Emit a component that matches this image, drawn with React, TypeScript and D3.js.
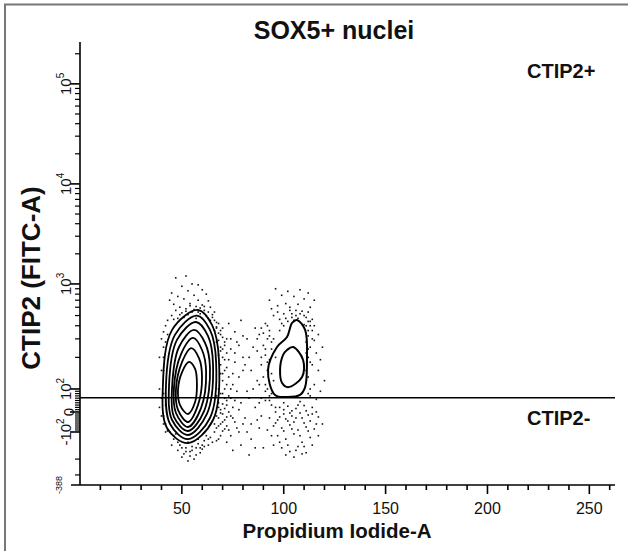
import React from 'react';
import * as d3 from 'd3';

const W = 628;
const H = 551;

// ---- axis data ----
const xMajorTicks = [50, 100, 150, 200, 250];
const xMinorTicks = [10, 20, 30, 40, 60, 70, 80, 90, 110, 120, 130, 140, 160, 170, 180, 190, 210, 220, 230, 240, 260];
const yMajorTicks = [100000, 10000, 1000, 100, 0, -100];
const yMinorTicks = [
  200000, 90000, 80000, 70000, 60000, 50000, 40000, 30000, 20000,
  9000, 8000, 7000, 6000, 5000, 4000, 3000, 2000,
  900, 800, 700, 600, 500, 400, 300, 200,
  90, 80, 70, 60, 50, 40, 30, 20, 10,
  -10, -20, -30, -40, -50, -60, -70, -80, -90, -200, -300,
];
const yLabelValues = [100000, 10000, 1000, 100, 0, -100];
const yLabelBase = ['10', '10', '10', '10', '0', '-10'];
const yLabelExp = ['5', '4', '3', '2', '', '2'];
const yMinValue = -388;
const yMaxValue = 262143;
const xMaxValue = 262.6;
const gateValue = 62;

// ---- contour data [PI, FITC] ----
const pop1Contours: [number, number][][] = [
  [[57.9, 565], [64.8, 407], [68.2, 189], [65.3, -40], [53, -133], [42.7, -80], [40.7, 109], [45.2, 365]],
  [[57.4, 500], [63.8, 365], [66.8, 181], [63.8, -30], [53, -120], [44.2, -60], [42.2, 109], [46.6, 327]],
  [[56.9, 434], [62.8, 320], [65.3, 169], [62.3, -10], [53, -108], [45.2, -40], [43.7, 107], [47.6, 293]],
  [[56, 365], [61.4, 274], [63.8, 159], [60.9, 4], [53, -95], [46.1, -25], [45.2, 104], [48.6, 251]],
  [[55.5, 306], [59.9, 235], [61.9, 145], [59.4, 17], [53, -75], [47.1, -5], [46.1, 102], [49.6, 215]],
  [[54.5, 245], [58.4, 197], [59.9, 130], [57.9, 30], [53, -50], [48.1, 9], [47.1, 100], [50.1, 181]],
  [[53.5, 181], [56.5, 155], [57.4, 109], [56.5, 43], [53, -10], [49.1, 30], [48.1, 96], [50.1, 145]],
];
const pop2Contours: [number, number][][] = [
  [[106.5, 454], [110.5, 365], [111.4, 189], [110.5, 104], [108, 74], [101.6, 65], [95.7, 74], [92.3, 152], [96.7, 251], [101.6, 312], [104.1, 425]],
  [[104.6, 251], [109.5, 189], [109, 130], [102.1, 104], [99.2, 114], [98.2, 152], [99.7, 211], [101.6, 235]],
];

// ---- outlier events [PI, FITC] ----
const events: [number, number][] = [
  // pop1 top
  [47, 1150], [52, 1200], [55, 1000], [50, 950], [58, 980], [45, 820], [53, 860], [60, 880], [48, 760], [56, 780],
  [62, 800], [44, 700], [51, 720], [58, 700], [63, 690], [46, 640], [54, 650], [60, 630], [49, 600], [57, 610],
  [64, 600], [47, 560], [52, 580], [61, 560], [55, 540], [66, 540], [50, 530], [59, 520], [62, 500], [53, 510],
  [45, 500], [65, 480], [57, 470], [48, 470], [43, 450], [67, 430], [64, 450],
  [54, 620], [56, 570], [59, 590], [61, 610], [63, 540], [65, 510], [60, 470], [58, 540], [52, 550], [49, 510],
  [46, 460], [51, 480], [63, 470], [66, 450], [67, 380],
  // pop1 right
  [68, 420], [70, 380], [66, 360], [69, 330], [72, 300], [68, 290], [71, 260], [74, 240], [69, 230], [70, 200],
  [73, 190], [76, 180], [69, 170], [71, 150], [75, 140], [78, 130], [70, 120], [72, 110], [74, 100], [77, 90],
  [70, 80], [73, 70], [71, 60], [76, 50], [68, 40], [72, 30], [75, 20], [69, 10], [73, 0], [70, -10],
  [74, -20], [68, -30], [71, -40], [76, -50], [69, -60], [72, -70], [67, -80], [70, -95], [74, -110], [66, -100],
  [68, -120], [72, -130], [78, -100], [80, -60], [79, 40], [80, 150], [82, 90], [78, 260], [76, 350], [73, 420],
  [79, -140], [75, -160], [68, 340], [67, 280], [69, 250], [68, 210], [69, 140], [68, 100], [67, 70], [68, 20],
  [67, -20], [66, -60],
  [67, 390], [69, 360], [70, 310], [71, 280], [70, 240], [72, 220], [71, 190], [72, 160], [70, 140], [73, 130],
  [71, 100], [69, 80], [72, 50], [70, 35], [71, 15], [69, -5], [72, -25], [70, -50], [68, -70], [71, -85],
  [69, -110], [67, -125], [73, -90], [75, -30], [74, 60], [75, 110], [76, 220], [74, 300], [77, -80], [78, 10],
  // pop1 left
  [40, 300], [41, 250], [39, 200], [40, 150], [39, 100], [40, 60], [39, 20], [40, -20], [41, -60], [42, -100],
  [41, 350], [42, 400], [41, 200], [41, 150], [41, 80], [42, 30], [41, -20], [42, -60], [43, -95], [42, 280],
  [43, 330],
  // pop1 bottom
  [46, -120], [49, -140], [52, -150], [55, -145], [58, -135], [61, -125], [48, -160], [51, -175], [54, -165], [57, -180],
  [60, -155], [63, -140], [50, -190], [56, -200], [45, -140], [53, -130], [59, -170], [47, -105], [62, -110], [65, -130],
  [44, -100], [53, -210], [58, -120], [50, -150], [52, -165], [55, -160], [57, -150], [60, -140], [63, -120], [48, -130],
  [46, -110], [54, -185], [59, -150], [61, -145], [64, -115], [43, -90],
  // bridge
  [82, 300], [85, 250], [80, 200], [84, 150], [87, 120], [83, 60], [86, 20], [81, -30], [88, -80], [84, -120],
  [90, -150], [86, 380], [79, 450], [89, 200], [91, 50], [83, -180], [87, -40], [77, 280], [80, 320], [83, 200],
  [85, 100], [82, -100], [86, -150], [88, 40], [89, -20], [81, 170], [84, -60],
  // pop2 top
  [96, 900], [102, 850], [108, 880], [112, 820], [99, 780], [105, 760], [93, 700], [110, 720], [115, 700], [101, 650],
  [97, 620], [107, 640], [113, 600], [94, 580], [103, 560], [109, 550], [100, 520], [95, 500], [106, 500], [111, 480],
  [98, 460], [102, 440], [114, 460], [104, 480], [107, 470], [100, 400], [98, 360], [110, 410], [104, 520],
  [103, 600], [106, 560], [108, 520], [105, 450], [101, 470], [99, 420], [110, 500], [97, 540], [112, 540],
  // pop2 left
  [91, 420], [89, 380], [93, 360], [88, 330], [92, 300], [94, 280], [90, 260], [87, 230], [91, 210], [93, 190],
  [89, 170], [92, 150], [90, 130], [88, 110], [91, 90], [94, 80], [89, 60], [93, 50], [95, 300], [96, 200],
  [95, 120], [87, 300], [92, 400], [93, 320], [91, 240], [92, 180], [91, 110], [93, 70], [90, 340], [94, 240],
  [92, 100], [94, 140],
  // pop2 right
  [112, 440], [113, 400], [114, 360], [112, 320], [115, 290], [113, 250], [116, 220], [112, 200], [114, 170], [117, 150],
  [112, 130], [115, 110], [118, 90], [113, 70], [116, 55], [119, 250], [117, 330], [118, 190], [120, 120], [111, 280],
  [111, 400], [112, 360], [112, 240], [113, 180], [111, 150], [113, 100], [112, 80], [114, 300], [111, 220], [113, 440],
  [115, 400],
  // pop2 bottom
  [94, 30], [98, 20], [102, 25], [106, 15], [110, 28], [114, 20], [96, 0], [100, -10], [104, 5], [108, -5],
  [112, -15], [116, 0], [93, -30], [97, -40], [101, -35], [105, -50], [109, -30], [113, -45], [117, -25], [95, -70],
  [99, -80], [103, -65], [107, -90], [111, -75], [115, -85], [97, -110], [101, -120], [105, -105], [109, -130], [113, -115],
  [99, -150], [103, -165], [107, -145], [111, -170], [105, -190], [95, -140], [117, -110], [92, -90], [119, -60], [100, 40],
  [108, 45], [104, -20], [96, 20], [100, 10], [103, -5], [107, 30], [111, 5], [98, -25], [102, -45], [106, -30],
  [110, -55], [114, -10], [96, -55], [100, -95], [104, -85], [108, -110], [112, -95], [116, -60], [94, -110], [102, -140],
  [106, -160], [110, -145], [98, -130], [114, -140], [101, -180], [109, -175],
];

// biexponential-like display transform
function biex(v: number): number {
  if (v >= 0) {
    if (v <= 100) return v * 0.23;
    if (v <= 1000) return 23 + 105 * Math.log10(v / 100);
    return 128 + 100 * Math.log10(v / 1000);
  }
  if (v >= -100) return v * 0.2;
  return -20 - 90 * Math.log10(-v / 100);
}

const FONT = "'Liberation Sans', Arial, Helvetica, sans-serif";

export default function App() {
  const x = d3.scaleLinear().domain([0, xMaxValue]).range([80, 615]);
  const yLin = d3.scaleLinear().domain([biex(yMinValue), biex(yMaxValue)]).range([485, 42]);
  const y = (v: number) => yLin(biex(v));

  const line = d3
    .line<[number, number]>()
    .x((d) => x(d[0]))
    .y((d) => y(d[1]))
    .curve(d3.curveCatmullRomClosed.alpha(0.5));

  const x0 = x(0);
  const yBottom = y(yMinValue);
  const yTop = y(yMaxValue);

  return (
    <svg width={W} height={H} style={{ position: 'absolute', left: 0, top: 0, background: '#fff' }} fontFamily={FONT}>
      <rect x={0} y={0} width={W} height={H} fill="#fff" />
      {/* frame */}
      <line x1={4} y1={4.5} x2={W} y2={4.5} stroke="#777" strokeWidth={2} />
      <line x1={5} y1={4} x2={5} y2={H} stroke="#777" strokeWidth={2} />

      {/* title */}
      <text x={334} y={39} textAnchor="middle" fontSize={25} fontWeight="bold" fill="#111">SOX5+ nuclei</text>

      {/* events */}
      <g fill="#111">
        {events.map((d, i) => (
          <rect key={i} x={x(d[0]) - 0.8} y={y(d[1]) - 0.8} width={1.6} height={1.6} />
        ))}
      </g>

      {/* contours */}
      <g fill="none" stroke="#000" strokeWidth={1.8}>
        {pop1Contours.map((c, i) => (
          <path key={'a' + i} d={line(c) || ''} />
        ))}
        {pop2Contours.map((c, i) => (
          <path key={'b' + i} d={line(c) || ''} strokeWidth={2} />
        ))}
      </g>

      {/* gate line */}
      <line x1={x0} x2={615} y1={y(gateValue)} y2={y(gateValue)} stroke="#000" strokeWidth={1.5} />

      {/* axes */}
      <g stroke="#000" strokeWidth={1.6}>
        <line x1={x0} x2={x0} y1={yTop} y2={yBottom} />
        <line x1={x0 - 9} x2={615} y1={yBottom} y2={yBottom} />
        {xMajorTicks.map((t) => (
          <line key={'xm' + t} x1={x(t)} x2={x(t)} y1={yBottom} y2={yBottom + 9} />
        ))}
        {xMinorTicks.map((t) => (
          <line key={'xn' + t} x1={x(t)} x2={x(t)} y1={yBottom} y2={yBottom + 5} />
        ))}
        {yMajorTicks.map((t) => (
          <line key={'ym' + t} x1={x0 - 10} x2={x0} y1={y(t)} y2={y(t)} />
        ))}
        {yMinorTicks.map((t) => (
          <line key={'yn' + t} x1={x0 - 5} x2={x0} y1={y(t)} y2={y(t)} strokeWidth={1.2} />
        ))}
      </g>

      {/* x tick labels */}
      {xMajorTicks.map((t) => (
        <text key={'xl' + t} x={x(t)} y={514} textAnchor="middle" fontSize={16} fill="#111">{t}</text>
      ))}

      {/* y tick labels */}
      {yLabelValues.map((v, i) => (
        <text
          key={'yl' + v}
          transform={`translate(${v === 0 ? 74 : 71},${y(v)}) rotate(-90)`}
          textAnchor="middle"
          fontSize={15}
          fill="#111"
        >
          {yLabelBase[i]}
          {yLabelExp[i] ? (
            <tspan fontSize={10} dy={-7}>{yLabelExp[i]}</tspan>
          ) : null}
        </text>
      ))}
      <text transform={`translate(62,${yBottom}) rotate(-90)`} textAnchor="middle" fontSize={9} fill="#111">-388</text>

      {/* axis titles */}
      <text x={337} y={538} textAnchor="middle" fontSize={20.5} fontWeight="bold" fill="#111">Propidium Iodide-A</text>
      <text transform={`translate(40,278) rotate(-90)`} textAnchor="middle" fontSize={26} fontWeight="bold" fill="#111">CTIP2 (FITC-A)</text>

      {/* quadrant labels */}
      <text x={527} y={78} fontSize={20} fontWeight="bold" fill="#111">CTIP2+</text>
      <text x={527} y={425} fontSize={20} fontWeight="bold" fill="#111">CTIP2-</text>
    </svg>
  );
}
